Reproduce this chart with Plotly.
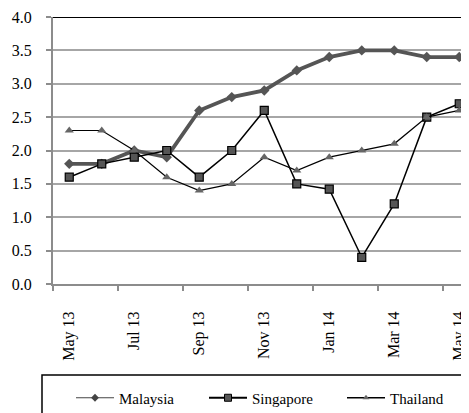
import plotly.graph_objects as go

months = ["May 13", "Jun 13", "Jul 13", "Aug 13", "Sep 13", "Oct 13", "Nov 13",
          "Dec 13", "Jan 14", "Feb 14", "Mar 14", "Apr 14", "May 14"]
malaysia = [1.8, 1.8, 2.0, 1.9, 2.6, 2.8, 2.9, 3.2, 3.4, 3.5, 3.5, 3.4, 3.4]
singapore = [1.6, 1.8, 1.9, 2.0, 1.6, 2.0, 2.6, 1.5, 1.42, 0.4, 1.2, 2.5, 2.7]
thailand = [2.3, 2.3, 2.0, 1.6, 1.4, 1.5, 1.9, 1.7, 1.9, 2.0, 2.1, 2.5, 2.6]
ytick_vals = [0, 0.5, 1.0, 1.5, 2.0, 2.5, 3.0, 3.5, 4.0]

idx = list(range(len(months)))
label_idx = idx[::2]
label_txt = months[::2]
boundaries = [i - 0.5 for i in idx[::2]]

# page body margin offset (plotly html page has 8px body margin)
OFF = 8
W, H = 469, 413
L, R = 53 - OFF, 0
T = 17 - OFF
B = H - (284 - OFF)
pw, ph = W - L - R, H - T - B

def px_x(page_x):
    return (page_x - OFF - L) / pw

def px_y(page_y):
    return (H - B - (page_y - OFF)) / ph

font = "Liberation Serif"

fig = go.Figure()
fig.add_trace(go.Scatter(
    x=idx, y=malaysia, name="Malaysia", mode="lines+markers",
    line=dict(color="#555555", width=3.8),
    marker=dict(symbol="diamond", size=8, color="#555555"),
    showlegend=False,
))
fig.add_trace(go.Scatter(
    x=idx, y=singapore, name="Singapore", mode="lines+markers",
    line=dict(color="#000000", width=1.5),
    marker=dict(symbol="square", size=8, color="#555555",
                line=dict(color="#000000", width=1.2)),
    showlegend=False,
))
fig.add_trace(go.Scatter(
    x=idx, y=thailand, name="Thailand", mode="lines+markers",
    line=dict(color="#000000", width=1.2),
    marker=dict(symbol="triangle-up", size=8, color="#666666"),
    showlegend=False,
))

# legend entries (styled like the reference legend keys)
fig.add_trace(go.Scatter(
    x=[None], y=[None], name="Malaysia", mode="lines+markers",
    line=dict(color="#444444", width=1.2),
    marker=dict(symbol="diamond", size=6, color="#444444"),
    legend="legend",
))
fig.add_trace(go.Scatter(
    x=[None], y=[None], name="Singapore", mode="lines+markers",
    line=dict(color="#000000", width=1.8),
    marker=dict(symbol="square", size=7, color="#555555",
                line=dict(color="#000000", width=1)),
    legend="legend2",
))
fig.add_trace(go.Scatter(
    x=[None], y=[None], name="Thailand", mode="lines+markers",
    line=dict(color="#000000", width=1.5),
    marker=dict(symbol="triangle-up", size=6, color="#666666"),
    legend="legend3",
))

xmax = -0.5 + pw / 32.5
fig.update_xaxes(
    range=[-0.5, xmax], tickmode="array", tickvals=label_idx, ticktext=label_txt,
    tickangle=-90, ticks="outside", ticklen=0, ticklabelstandoff=19,
    automargin=False,
    showgrid=False, zeroline=False, showline=True, linecolor="#8c8c8c", linewidth=2,
    tickfont=dict(family=font, size=16, color="#000000"),
    minor=dict(tickmode="array", tickvals=boundaries, ticks="outside", ticklen=5,
               tickcolor="#8c8c8c", tickwidth=2, showgrid=False),
)
fig.update_yaxes(
    range=[0, 4], tickmode="array", tickvals=ytick_vals, tickformat=".1f",
    ticks="outside", ticklen=5, tickcolor="#8c8c8c", tickwidth=2,
    ticklabelstandoff=11, automargin=False,
    showgrid=True, gridcolor="#a6a6a6", gridwidth=2,
    zeroline=False, showline=True, linecolor="#8c8c8c", linewidth=2,
    tickfont=dict(family=font, size=16, color="#000000"),
)

# black top line at 4.0
fig.add_shape(type="line", xref="paper", yref="y", x0=0, x1=1, y0=4, y1=4,
              line=dict(color="#000000", width=2))
# legend box
fig.add_shape(type="rect", xref="paper", yref="paper",
              x0=px_x(42), x1=px_x(520),
              y0=px_y(440), y1=px_y(375),
              line=dict(color="#000000", width=1.5), fillcolor="rgba(0,0,0,0)")

leg_common = dict(orientation="h", xanchor="left", yanchor="middle",
                  y=px_y(398), itemwidth=38,
                  font=dict(family=font, size=15, color="#000000"),
                  bgcolor="rgba(0,0,0,0)", borderwidth=0)
fig.update_layout(
    width=W, height=H, margin=dict(l=L, r=R, t=T, b=B, autoexpand=False),
    paper_bgcolor="white", plot_bgcolor="white",
    showlegend=True,
    legend=dict(x=px_x(71), **leg_common),
    legend2=dict(x=px_x(204), **leg_common),
    legend3=dict(x=px_x(342), **leg_common),
)

fig.write_html("out.html")
